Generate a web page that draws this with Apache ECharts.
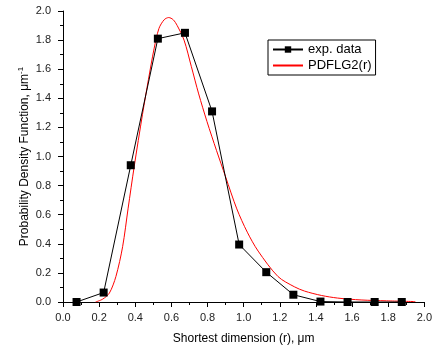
<!DOCTYPE html>
<html><head><meta charset="utf-8">
<script src="https://cdn.jsdelivr.net/npm/echarts@6/dist/echarts.min.js"></script>
<style>html,body{margin:0;padding:0;background:#fff}#c{width:435px;height:350px}</style>
</head><body><div id="c"></div>
<script>
const expX = [0.075,0.225,0.375,0.525,0.675,0.825,0.975,1.125,1.275,1.425,1.575,1.725,1.875];
const expY = [0.0,0.065,0.94,1.81,1.85,1.31,0.395,0.205,0.05,0.003,0.0,0.0,0.0];
const fitX = [0.18,0.22,0.257,0.293,0.33,0.36,0.394,0.44,0.473,0.504,0.531,0.56,0.585,0.61,0.632,0.67,0.71,0.751,0.797,0.85,0.9,0.962,1.02,1.08,1.19,1.28,1.337,1.43,1.52,1.65,1.79,1.95];
const fitY = [0.0,0.02,0.062,0.176,0.38,0.64,0.93,1.29,1.53,1.74,1.88,1.94,1.955,1.94,1.90,1.80,1.62,1.43,1.24,1.04,0.86,0.64,0.48,0.35,0.175,0.105,0.075,0.045,0.027,0.014,0.008,0.003];
const xTicks = {min:0, max:2, interval:0.2};
const yTicks = {min:0, max:2, interval:0.2};

const font = 'Liberation Sans, Arial, sans-serif';
const chart = echarts.init(document.getElementById('c'));
chart.setOption({
  animation:false,
  grid:{left:63, right:8, top:11, bottom:48},
  legend:{
    orient:'vertical', left:268, top:40,
    borderColor:'#000', borderWidth:1, borderRadius:0,
    padding:[3,4,3,4], itemGap:3, itemWidth:30, itemHeight:8,
    textStyle:{fontFamily:font, fontSize:13, color:'#000'},
    data:[{name:'exp. data'},{name:'PDFLG2(r)', itemStyle:{opacity:0}}]
  },
  xAxis:{
    type:'value', min:xTicks.min, max:xTicks.max, interval:xTicks.interval,
    name:'Shortest dimension (r), μm', nameLocation:'middle', nameGap:31, nameMoveOverlap:false,
    nameTextStyle:{fontFamily:font, fontSize:12, color:'#000'},
    axisLine:{lineStyle:{color:'#000', width:1}},
    axisTick:{show:true, inside:false, length:5, lineStyle:{color:'#000'}},
    minorTick:{show:true, splitNumber:2, length:3, lineStyle:{color:'#000'}},
    axisLabel:{fontFamily:font, fontSize:11, color:'#222', margin:10, formatter:v=>v.toFixed(1)},
    splitLine:{show:false}
  },
  yAxis:{
    type:'value', min:yTicks.min, max:yTicks.max, interval:yTicks.interval,
    name:'{a|Probability Density Function, μm}{s|-1}', nameLocation:'middle', nameGap:30, nameRotate:90, nameMoveOverlap:false,
    nameTextStyle:{rich:{
      a:{fontFamily:font, fontSize:12, color:'#000'},
      s:{fontFamily:font, fontSize:8, color:'#000', verticalAlign:'top', padding:[0,0,8,0]}
    }},
    axisLine:{show:true, lineStyle:{color:'#000', width:1}},
    axisTick:{show:true, inside:false, length:5, lineStyle:{color:'#000'}},
    minorTick:{show:true, splitNumber:2, length:3, lineStyle:{color:'#000'}},
    axisLabel:{fontFamily:font, fontSize:11, color:'#222', margin:12, formatter:v=>v.toFixed(1)},
    splitLine:{show:false}
  },
  series:[
    {name:'exp. data', type:'line', data:expX.map((x,i)=>[x,expY[i]]),
     symbol:'rect', symbolSize:8, itemStyle:{color:'#000'},
     lineStyle:{color:'#000', width:1}, z:3},
    {name:'PDFLG2(r)', type:'line', data:fitX.map((x,i)=>[x,fitY[i]]),
     symbol:'none', smooth:0.3, itemStyle:{color:'#f00'},
     lineStyle:{color:'#f00', width:1}, z:2}
  ]
});
</script></body></html>
